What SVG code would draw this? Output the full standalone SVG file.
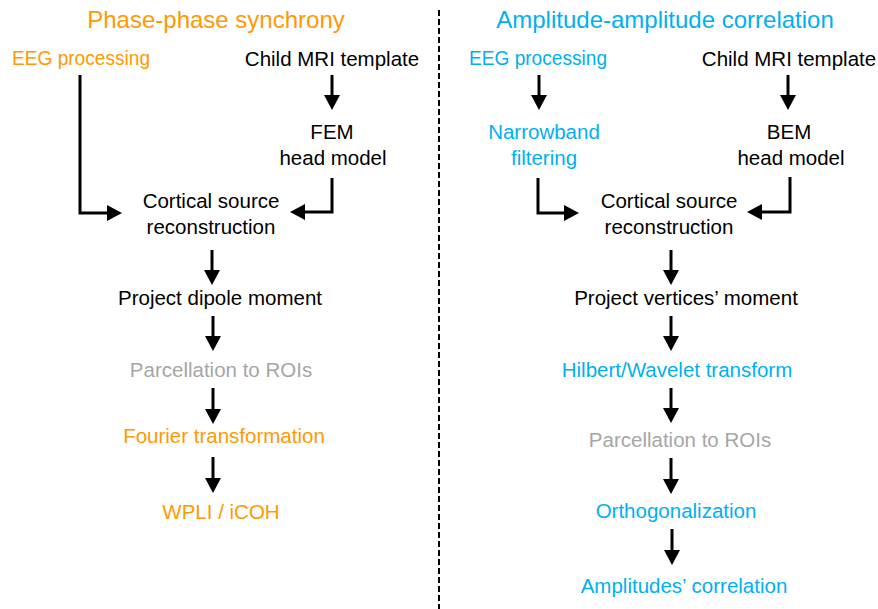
<svg xmlns="http://www.w3.org/2000/svg" width="878" height="609" viewBox="0 0 878 609">
<style>
text{font-family:"Liberation Sans",Arial,sans-serif;font-size:20.5px;text-anchor:middle}
.t{font-size:24px}
.o{fill:#FF9900}.b{fill:#00B0F0}.g{fill:#A6A6A6}.k{fill:#000}
.c{fill:none;stroke:#000;stroke-width:3;marker-end:url(#ah)}
</style>
<defs>
<marker id="ah" markerUnits="userSpaceOnUse" markerWidth="15" markerHeight="17" refX="0" refY="8" orient="auto" viewBox="0 0 15 16">
<path d="M0,0 L15,8 L0,16 z" fill="#000"/>
</marker>
</defs>
<rect width="878" height="609" fill="#fff"/>
<line x1="439" y1="10" x2="439" y2="609" stroke="#000" stroke-width="2" stroke-dasharray="6 3"/>
<g id="left-title"><text class="t o" x="216" y="28">Phase-phase synchrony</text></g>
<g id="right-title"><text class="t b" x="665" y="28">Amplitude-amplitude correlation</text></g>
<g id="l-eeg"><text class="o" x="12" y="65" style="text-anchor:start" textLength="138" lengthAdjust="spacingAndGlyphs">EEG processing</text></g>
<g id="l-mri"><text class="k" x="332" y="66">Child MRI template</text></g>
<g id="l-fem"><text class="k" x="332" y="139">FEM</text><text class="k" x="333" y="165">head model</text></g>
<g id="l-csr"><text class="k" x="211" y="208">Cortical source</text><text class="k" x="211" y="234">reconstruction</text></g>
<g id="l-pdm"><text class="k" x="220" y="305">Project dipole moment</text></g>
<g id="l-parc"><text class="g" x="221" y="377">Parcellation to ROIs</text></g>
<g id="l-fourier"><text class="o" x="224" y="443">Fourier transformation</text></g>
<g id="l-wpli"><text class="o" x="221" y="519">WPLI / iCOH</text></g>
<g id="r-eeg"><text class="b" x="538" y="65" textLength="138" lengthAdjust="spacingAndGlyphs">EEG processing</text></g>
<g id="r-mri"><text class="k" x="789" y="66">Child MRI template</text></g>
<g id="r-nb"><text class="b" x="544" y="139">Narrowband</text><text class="b" x="544" y="165">filtering</text></g>
<g id="r-bem"><text class="k" x="789" y="139">BEM</text><text class="k" x="791" y="165">head model</text></g>
<g id="r-csr"><text class="k" x="669" y="208">Cortical source</text><text class="k" x="669" y="234">reconstruction</text></g>
<g id="r-pvm"><text class="k" x="686" y="305">Project vertices’ moment</text></g>
<g id="r-hil"><text class="b" x="677" y="377">Hilbert/Wavelet transform</text></g>
<g id="r-parc"><text class="g" x="680" y="447">Parcellation to ROIs</text></g>
<g id="r-orth"><text class="b" x="676" y="518">Orthogonalization</text></g>
<g id="r-amp"><text class="b" x="684" y="593">Amplitudes’ correlation</text></g>
<g id="connectors">
<path class="c" d="M80,75 V213 H107"/>
<path class="c" d="M332,75 V95"/>
<path class="c" d="M332,178 V212 H305"/>
<path class="c" d="M212,250 V270"/>
<path class="c" d="M213,316 V336"/>
<path class="c" d="M213,388 V409"/>
<path class="c" d="M213,457 V478"/>
<path class="c" d="M539,75 V95"/>
<path class="c" d="M788,75 V95"/>
<path class="c" d="M538,178 V213 H564"/>
<path class="c" d="M790,177 V212 H762"/>
<path class="c" d="M671,250 V270"/>
<path class="c" d="M671,316 V336"/>
<path class="c" d="M671,388 V408"/>
<path class="c" d="M671,458 V479"/>
<path class="c" d="M672,529 V550"/>
</g>
</svg>
